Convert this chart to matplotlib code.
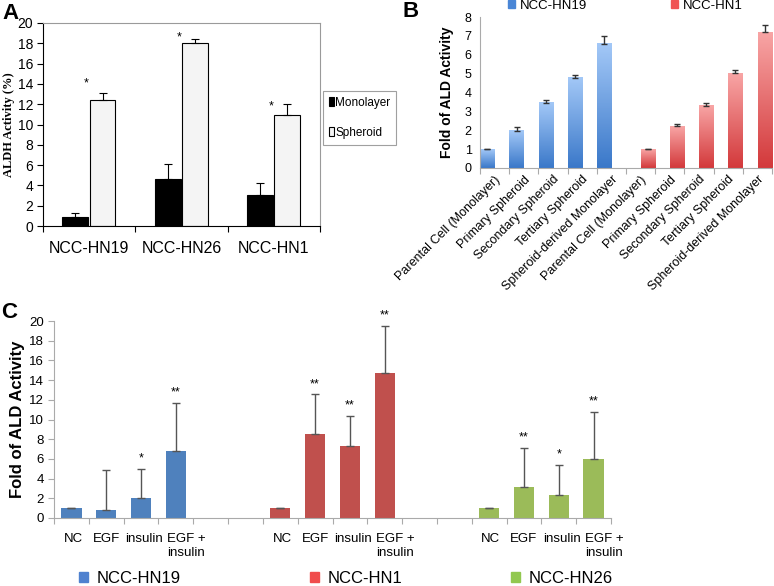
import numpy as np
import matplotlib
matplotlib.use("Agg")
import matplotlib.pyplot as plt
from matplotlib.colors import LinearSegmentedColormap
from matplotlib.patches import Patch

plt.rcParams['font.family'] = ['Liberation Sans', 'DejaVu Sans']
narrow = ['Liberation Sans Narrow', 'Liberation Sans', 'DejaVu Sans']

# ---- Panel A data ----
a_lines = ["NCC-HN19", "NCC-HN26", "NCC-HN1"]
a_mono = [0.9, 4.6, 3.1]
a_mono_err = [0.4, 1.5, 1.1]
a_sph = [12.4, 18.0, 10.9]
a_sph_err = [0.7, 0.4, 1.1]
a_star_y = [14.0, 18.6, 11.8]

# ---- Panel B data ----
b_stages = ["Parental Cell (Monolayer)", "Primary Spheroid", "Secondary Spheroid",
            "Tertiary Spheroid", "Spheroid-derived Monolayer"]
b_hn19 = [1.0, 1.97, 3.45, 4.77, 6.57]
b_hn19_err = [0.02, 0.18, 0.15, 0.18, 0.43]
b_hn1 = [1.0, 2.2, 3.3, 5.02, 7.18]
b_hn1_err = [0.02, 0.15, 0.13, 0.18, 0.42]

# ---- Panel C data ----
c_treat = ["NC", "EGF", "insulin", "EGF +\ninsulin"]
c_hn19 = [1.0, 0.8, 2.05, 6.85]
c_hn19_err = [0.05, 4.05, 2.95, 4.85]
c_hn19_sig = ["", "", "*", "**"]
c_hn1 = [1.0, 8.55, 7.35, 14.75]
c_hn1_err = [0.05, 4.0, 3.05, 4.75]
c_hn1_sig = ["", "**", "**", "**"]
c_hn26 = [1.0, 3.1, 2.35, 6.0]
c_hn26_err = [0.05, 4.05, 3.0, 4.8]
c_hn26_sig = ["", "**", "*", "**"]

W, H = 774, 586
fig = plt.figure(figsize=(W / 100, H / 100), dpi=100)


def px_axes(left, top, right, bottom):
    return fig.add_axes([left / W, 1 - bottom / H, (right - left) / W, (bottom - top) / H])


# =================== Panel A ===================
axA = px_axes(43, 23, 320, 226)
xa = np.arange(len(a_lines)) + 0.5
axA.bar(xa - 0.15, a_mono, 0.28, color='black', edgecolor='black', lw=0.8, zorder=2,
        label='Monolayer')
axA.bar(xa + 0.145, a_sph, 0.28, color='#f4f4f4', edgecolor='black', lw=0.8, zorder=2,
        label='Spheroid')
axA.errorbar(xa - 0.15, a_mono, yerr=[np.zeros(3), a_mono_err], fmt='none', ecolor='black',
             elinewidth=0.8, capsize=3, capthick=0.8, zorder=3)
axA.errorbar(xa + 0.145, a_sph, yerr=[np.zeros(3), a_sph_err], fmt='none', ecolor='black',
             elinewidth=0.8, capsize=3, capthick=0.8, zorder=3)
for x, y in zip(xa, a_star_y):
    axA.text(x - 0.03, y, "*", ha='center', va='center', fontsize=9)
axA.set_xlim(0, 3)
axA.set_ylim(0, 20)
axA.set_yticks(np.arange(0, 21, 2))
axA.set_xticks([0, 1, 2, 3])
axA.set_xticklabels([])
axA.set_xticks(xa, minor=True)
axA.set_xticklabels(a_lines, minor=True, fontsize=11.5)
axA.tick_params(axis='x', which='minor', length=0, pad=11)
axA.tick_params(axis='x', which='major', length=4)
axA.tick_params(axis='y', labelsize=10, length=4, pad=3)
for lbl in axA.get_yticklabels():
    lbl.set_family(narrow)
for s in ['top', 'right']:
    axA.spines[s].set_color('#9a9a9a')
axA.set_ylabel("ALDH Activity (%)", fontsize=9, fontweight='bold',
               family='Liberation Serif', labelpad=2)
legA = axA.legend(loc='upper left', bbox_to_anchor=(1.01, 0.665),
                  prop={'family': narrow, 'size': 8.5}, frameon=True, fancybox=False,
                  edgecolor='#888888', handlelength=0.45, handleheight=0.75, handletextpad=0.1,
                  labelspacing=1.5, borderpad=0.5, borderaxespad=0)
legA.get_frame().set_linewidth(0.8)
fig.text(2 / W, 1 - 3 / H, "A", fontsize=16, fontweight='bold', va='top')

# =================== Panel B ===================
axB = px_axes(480, 17, 772, 168)
blue_cm = LinearSegmentedColormap.from_list('b', ['#3a78c9', '#a3c8f7'])
red_cm = LinearSegmentedColormap.from_list('r', ['#d3393b', '#f8a5a5'])
grad = np.linspace(0, 1, 100).reshape(-1, 1)
bw = 0.48
nB = len(b_stages)
xb_blue = np.arange(nB) + 0.25
xb_red = np.arange(nB) + nB + 0.75
for x, h in zip(xb_blue, b_hn19):
    axB.imshow(grad, extent=[x - bw / 2, x + bw / 2, 0, h], origin='lower', cmap=blue_cm,
               aspect='auto', zorder=2)
for x, h in zip(xb_red, b_hn1):
    axB.imshow(grad, extent=[x - bw / 2, x + bw / 2, 0, h], origin='lower', cmap=red_cm,
               aspect='auto', zorder=2)
axB.errorbar(xb_blue, b_hn19, yerr=[np.zeros(nB), b_hn19_err], fmt='none', ecolor='#333333',
             elinewidth=1, capsize=2.5, capthick=1, zorder=3)
axB.errorbar(xb_red, b_hn1, yerr=[np.zeros(nB), b_hn1_err], fmt='none', ecolor='#333333',
             elinewidth=1, capsize=2.5, capthick=1, zorder=3)
axB.set_xlim(0, 2 * nB)
axB.set_ylim(0, 8)
axB.set_yticks(range(0, 9))
axB.set_xticks(np.arange(2 * nB + 1))
axB.set_xticklabels([])
axB.set_xticks(np.arange(2 * nB) + 0.5, minor=True)
axB.set_xticklabels(b_stages + b_stages, minor=True, rotation=45, ha='right',
                    rotation_mode='anchor', fontsize=9)
axB.tick_params(axis='x', which='minor', length=0, pad=4)
axB.tick_params(axis='x', which='major', length=4, color='#aaaaaa')
axB.tick_params(axis='y', labelsize=9, length=0, pad=6)
for s in ['top', 'right']:
    axB.spines[s].set_visible(False)
for s in ['left', 'bottom']:
    axB.spines[s].set_color('#aaaaaa')
axB.set_ylabel("Fold of ALD Activity", fontsize=10, fontweight='bold', labelpad=8)
hB = [Patch(color='#4a86d6', label='NCC-HN19'), Patch(color='#f05252', label='NCC-HN1')]
axB.legend(handles=hB, loc='center left', bbox_to_anchor=(0.095, 1.075), ncol=2, fontsize=9.5,
           frameon=False, handlelength=0.55, handleheight=0.55, handletextpad=0.4,
           columnspacing=6.3, borderpad=0, borderaxespad=0)
fig.text(402 / W, 1 - 1 / H, "B", fontsize=16, fontweight='bold', va='top')

# =================== Panel C ===================
axC = px_axes(54, 321, 611, 518)
nT = len(c_treat)
cw = 0.58
label_shift = [0.05, 0.0, 0.08, 0.3]
groups = [(c_hn19, c_hn19_err, c_hn19_sig, '#4f81bd', 0),
          (c_hn1, c_hn1_err, c_hn1_sig, '#c0504d', 6),
          (c_hn26, c_hn26_err, c_hn26_sig, '#9bbb59', 12)]
label_pos = []
for vals, errs, sig, col, start in groups:
    xc = np.arange(nT) + start + 0.5
    label_pos.extend(xc + np.array(label_shift))
    axC.bar(xc, vals, cw, color=col, zorder=2)
    axC.errorbar(xc, vals, yerr=[np.zeros(nT), errs], fmt='none', ecolor='#555555',
                 elinewidth=1, capsize=3, capthick=1, zorder=3)
    for x, v, e, s in zip(xc, vals, errs, sig):
        if s:
            axC.text(x, v + e + 0.45, s, ha='center', va='bottom', fontsize=9)
axC.set_xlim(0, 16)
axC.set_ylim(0, 20)
axC.set_yticks(np.arange(0, 21, 2))
axC.set_xticks(np.arange(17))
axC.set_xticklabels([])
axC.set_xticks(label_pos, minor=True)
axC.set_xticklabels(c_treat * 3, minor=True, fontsize=9.5, va='top', linespacing=1.15)
axC.tick_params(axis='x', which='minor', length=0, pad=11)
axC.tick_params(axis='x', which='major', length=4, color='#aaaaaa')
axC.tick_params(axis='y', labelsize=9.5, length=4, color='#aaaaaa')
for s in ['top', 'right']:
    axC.spines[s].set_visible(False)
for s in ['left', 'bottom']:
    axC.spines[s].set_color('#aaaaaa')
axC.set_ylabel("Fold of ALD Activity", fontsize=12, fontweight='bold', labelpad=3)
leg_items = [('NCC-HN19', '#4f81cf', 0.045), ('NCC-HN1', '#f04d4d', 0.46),
             ('NCC-HN26', '#92c850', 0.82)]
for name, col, lx in leg_items:
    lg = axC.legend(handles=[Patch(color=col, label=name)], loc='center left',
                    bbox_to_anchor=(lx, -0.305), fontsize=12, frameon=False, handlelength=0.55,
                    handleheight=0.55, handletextpad=0.5, borderpad=0, borderaxespad=0)
    if name != leg_items[-1][0]:
        axC.add_artist(lg)
fig.text(1 / W, 1 - 302 / H, "C", fontsize=16, fontweight='bold', va='top')

fig.savefig("out.png", dpi=100)
